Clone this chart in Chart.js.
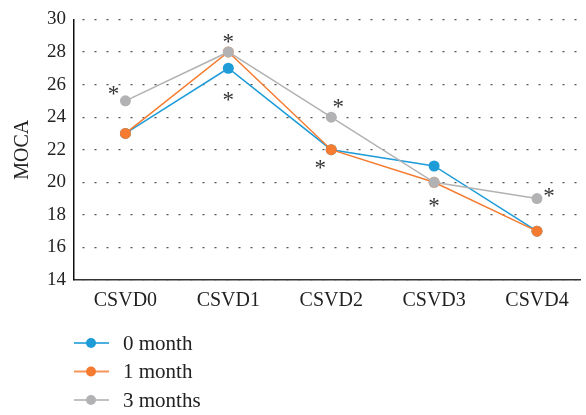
<!DOCTYPE html>
<html>
<head>
<meta charset="utf-8">
<script src="https://cdn.jsdelivr.net/npm/chart.js@4/dist/chart.umd.min.js"></script>
<style>
  html, body { margin: 0; padding: 0; background: #fff; overflow: hidden; }
  #wrap { position: relative; width: 586px; height: 415px; }
</style>
</head>
<body>
<div id="wrap"><canvas id="moca"></canvas></div>
<script>
// Chart data
const categories = ['CSVD0', 'CSVD1', 'CSVD2', 'CSVD3', 'CSVD4'];
const seriesNames = ['0 month', '1 month', '3 months'];
const month0 = [23, 27, 22, 21, 17];
const month1 = [23, 28, 22, 20, 17];
const month3 = [25, 28, 24, 20, 19];
const yTicks = [14, 16, 18, 20, 22, 24, 26, 28, 30];
const colors = ['#1e9cd8', '#f47b30', '#b2b2b4'];

// asterisks: series index, category index, pixel nudge from the point
const stars = [
    { s: 2, i: 0, dx: -12, dy: -10 },
    { s: 2, i: 1, dx: 0, dy: -13 },
    { s: 0, i: 1, dx: 0, dy: 29 },
    { s: 2, i: 2, dx: 7, dy: -13 },
    { s: 1, i: 2, dx: -11, dy: 15 },
    { s: 2, i: 3, dx: 0, dy: 21 },
    { s: 2, i: 4, dx: 12, dy: -6 }
];

const serif = "'Liberation Serif', 'DejaVu Serif', serif";

function toPoints(values) {
    return values.map((v, i) => ({ x: i, y: v }));
}

// later series are drawn on top (gray over orange over blue)
const datasets = [month0, month1, month3].map((vals, k) => ({
    label: seriesNames[k],
    data: toPoints(vals),
    order: 2 - k,
    borderColor: colors[k],
    backgroundColor: colors[k],
    borderWidth: 1.5,
    pointRadius: 5.5,
    pointBorderWidth: 0,
    pointHoverRadius: 5.5,
    tension: 0
}));

// Stars near the points
const starPlugin = {
    id: 'stars',
    afterDatasetsDraw(chart) {
        const ctx = chart.ctx;
        const xs = chart.scales.x, ys = chart.scales.y;
        const all = [month0, month1, month3];
        ctx.save();
        ctx.fillStyle = '#333';
        ctx.font = '23px ' + serif;
        ctx.textAlign = 'center';
        ctx.textBaseline = 'middle';
        stars.forEach(st => {
            const px = xs.getPixelForValue(st.i) + st.dx;
            const py = ys.getPixelForValue(all[st.s][st.i]) + st.dy;
            ctx.fillText('*', px, py + 4);
        });
        ctx.restore();
    }
};

// Vertical legend under the chart
const legendPlugin = {
    id: 'vlegend',
    afterDraw(chart) {
        const ctx = chart.ctx;
        const left = chart.chartArea.left;
        ctx.save();
        chart.data.datasets.forEach((ds, k) => {
            const y = 343 + k * 28.5;
            ctx.strokeStyle = ds.borderColor;
            ctx.globalAlpha = 0.8;
            ctx.lineWidth = 2;
            ctx.beginPath();
            ctx.moveTo(left, y);
            ctx.lineTo(left + 35, y);
            ctx.stroke();
            ctx.globalAlpha = 1;
            ctx.fillStyle = ds.backgroundColor;
            ctx.beginPath();
            ctx.arc(left + 17, y, 5, 0, Math.PI * 2);
            ctx.fill();
            ctx.fillStyle = '#222';
            ctx.font = '21px ' + serif;
            ctx.textAlign = 'left';
            ctx.textBaseline = 'middle';
            ctx.fillText(ds.label, left + 49, y + 1);
        });
        ctx.restore();
    }
};

const ctx = document.getElementById('moca').getContext('2d');
const mocaChart = new Chart(ctx, {
    type: 'line',
    data: { datasets: datasets },
    plugins: [starPlugin, legendPlugin],
    options: {
        responsive: true,
        maintainAspectRatio: false,
        animation: false,
        layout: { padding: { top: 15.7, right: 0, bottom: 95, left: 0 } },
        plugins: {
            legend: { display: false },
            tooltip: { enabled: false }
        },
        scales: {
            x: {
                type: 'linear',
                min: -0.5,
                max: 4.423,
                afterBuildTicks: scale => {
                    scale.ticks = categories.map((c, i) => ({ value: i }));
                },
                afterFit: scale => { scale.height = 40; },
                ticks: {
                    callback: v => categories[v],
                    color: '#222',
                    font: { family: serif, size: 20 },
                    padding: 1
                },
                grid: { display: false },
                border: { display: true, color: '#333', width: 1.5 }
            },
            y: {
                min: 14,
                max: 30,
                afterBuildTicks: scale => {
                    scale.ticks = yTicks.map(v => ({ value: v }));
                },
                afterFit: scale => { scale.width = 74; },
                ticks: {
                    color: '#222',
                    font: { family: serif, size: 19 },
                    padding: 8
                },
                grid: {
                    color: '#555',
                    lineWidth: 1.2,
                    drawTicks: false
                },
                border: { display: true, color: '#111', width: 1.5, dash: [2, 10], dashOffset: -8 },
                title: {
                    display: true,
                    text: 'MOCA',
                    color: '#222',
                    font: { family: serif, size: 20 },
                    padding: { top: 11, bottom: 0 }
                }
            }
        }
    }
});
</script>
</body>
</html>
